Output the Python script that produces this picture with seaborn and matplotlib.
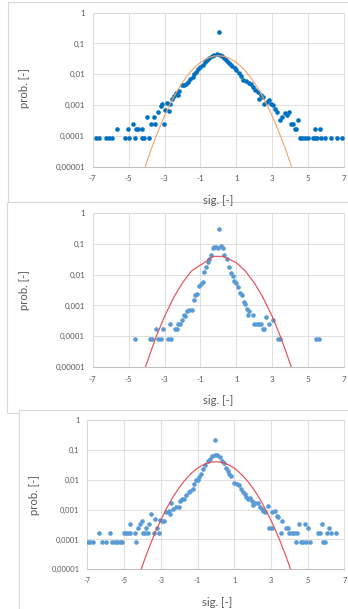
import matplotlib
matplotlib.use("Agg")
import matplotlib.pyplot as plt
from matplotlib.patches import Rectangle
import pandas as pd
import seaborn as sns

# probability of each 0.1-wide bin of sig.
p1_x = [-6.8, -6.65, -6.25, -6.1, -5.95, -5.65, -5.2, -5.05, -5.0, -4.75,
        -4.65, -4.6, -4.45, -4.25, -4.25, -4.15, -3.95, -3.85, -3.75, -3.6,
        -3.55, -3.37, -3.22, -3.15, -3.05, -2.96, -2.85, -2.74, -2.69, -2.57,
        -2.48, -2.35, -2.26, -2.17, -2.02, -1.89, -1.8, -1.67, -1.56, -1.44,
        -1.33, -1.22, -1.11, -1.0, -0.87, -0.74, -0.63, -0.5, -0.37, -0.22,
        -0.08, 0.05, 0.08, 0.2, 0.33, 0.45, 0.55, 0.66, 0.78, 0.9,
        1.0, 1.15, 1.28, 1.4, 1.55, 1.7, 1.81, 1.92, 2.06, 2.21,
        2.28, 2.38, 2.47, 2.56, 2.69, 2.8, 2.93, 3.06, 3.17, 3.29,
        3.42, 3.57, 3.72, 3.84, 3.95, 4.07, 4.16, 4.25, 4.33, 4.46,
        4.55, 4.65, 4.82, 5.0, 5.26, 5.37, 5.37, 5.5, 5.65, 5.73,
        5.95, 6.28, 6.6, 6.9]
p1_p = [8.3e-5, 8.3e-5, 8.3e-5, 8.3e-5, 8.3e-5, 1.67e-4, 8.3e-5, 1.67e-4, 8.3e-5, 2.5e-4,
        8.3e-5, 1.67e-4, 1.67e-4, 1.67e-4, 8.3e-5, 8.3e-5, 4.2e-4, 8.3e-5, 2.5e-4, 4.2e-4,
        2.5e-4, 5.8e-4, 9.3e-4, 1.05e-3, 2.5e-4, 6.8e-4, 1.17e-3, 6.2e-4, 1.1e-3, 1.55e-3,
        2.0e-3, 2.4e-3, 2.2e-3, 2.8e-3, 4.4e-3, 4.5e-3, 4.9e-3, 5.6e-3, 6.9e-3, 8.3e-3,
        0.0102, 0.012, 0.0145, 0.017, 0.0205, 0.025, 0.029, 0.033, 0.038, 0.042,
        0.044, 0.24, 0.042, 0.039, 0.034, 0.029, 0.025, 0.022, 0.0186, 0.016,
        0.0135, 0.0108, 0.009, 0.0066, 0.0061, 0.0054, 0.0047, 0.0039, 0.003, 0.0026,
        0.0016, 0.0022, 0.0019, 0.00105, 0.0013, 0.00145, 0.00112, 0.00098, 0.00074, 0.00058,
        0.00032, 0.00042, 0.00054, 0.00047, 0.00061, 2.5e-4, 2.5e-4, 1.67e-4, 1.67e-4, 3.3e-4,
        8.3e-5, 8.3e-5, 8.3e-5, 8.3e-5, 8.3e-5, 8.3e-5, 1.67e-4, 8.3e-5, 1.67e-4, 8.3e-5,
        8.3e-5, 8.3e-5, 8.3e-5, 8.3e-5]

p2_x = [-4.67, -3.83, -3.7, -3.46, -3.37, -3.22, -3.07, -2.81, -2.69, -2.63,
        -2.44, -2.33, -2.26, -2.15, -2.02, -1.94, -1.85, -1.74, -1.61, -1.48,
        -1.37, -1.3, -1.19, -1.06, -0.96, -0.87, -0.78, -0.69, -0.59, -0.5,
        -0.41, -0.31, -0.22, -0.13, 0.0, 0.04, 0.15, 0.24, 0.33, 0.48,
        0.61, 0.7, 0.8, 0.89, 0.98, 1.11, 1.22, 1.3, 1.41, 1.48,
        1.59, 1.63, 1.72, 1.91, 2.0, 2.15, 2.28, 2.37, 2.46, 2.56,
        2.65, 2.83, 3.02, 3.33, 3.44, 5.43, 5.61]
p2_p = [8.3e-5, 8.3e-5, 8.3e-5, 1.67e-4, 8.3e-5, 8.3e-5, 1.67e-4, 8.3e-5, 2.5e-4, 8.3e-5,
        1.67e-4, 1.67e-4, 2.5e-4, 2.5e-4, 3.3e-4, 4.9e-4, 4.4e-4, 6.6e-4, 7.1e-4, 7.1e-4,
        1.5e-3, 2.2e-3, 2.3e-3, 4.3e-3, 4.8e-3, 5.9e-3, 0.0123, 0.0178, 0.026, 0.033,
        0.043, 0.071, 0.079, 0.079, 0.074, 0.295, 0.085, 0.071, 0.043, 0.033,
        0.0178, 0.011, 0.0091, 0.0062, 0.0052, 0.0041, 0.0025, 0.0021, 0.00126, 0.0011,
        0.00078, 0.0005, 0.00066, 0.0005, 2.5e-4, 2.5e-4, 2.5e-4, 2.5e-4, 1.67e-4, 1.67e-4,
        4.2e-4, 2.5e-4, 3.3e-4, 8.3e-5, 8.3e-5, 8.3e-5, 8.3e-5]

p3_x = [-6.96, -6.84, -6.69, -6.37, -6.19, -6.0, -5.75, -5.64, -5.52, -5.39,
        -5.25, -5.1, -5.03, -4.92, -4.79, -4.7, -4.67, -4.43, -4.34, -4.25,
        -4.16, -4.05, -3.98, -3.85, -3.8, -3.71, -3.65, -3.53, -3.38, -3.3,
        -3.22, -3.11, -3.05, -2.93, -2.8, -2.71, -2.57, -2.5, -2.44, -2.32,
        -2.17, -2.03, -1.95, -1.85, -1.72, -1.63, -1.48, -1.41, -1.27, -1.18,
        -1.09, -1.0, -0.91, -0.82, -0.69, -0.58, -0.45, -0.33, -0.2, -0.07,
        -0.02, 0.07, 0.22, 0.35, 0.45, 0.53, 0.64, 0.71, 0.85, 1.0,
        1.13, 1.25, 1.36, 1.49, 1.58, 1.67, 1.76, 1.85, 1.95, 2.04,
        2.16, 2.31, 2.4, 2.49, 2.58, 2.67, 2.82, 2.89, 3.04, 3.07,
        3.22, 3.31, 3.4, 3.55, 3.58, 3.8, 3.95, 4.0, 4.13, 4.27,
        4.35, 4.4, 4.53, 4.64, 4.76, 4.85, 4.89, 5.0, 5.13, 5.55,
        5.67, 5.76, 5.85, 5.95, 6.04, 6.16, 6.27, 6.53]
p3_p = [8.3e-5, 8.3e-5, 8.3e-5, 1.67e-4, 8.3e-5, 8.3e-5, 1.67e-4, 8.3e-5, 8.3e-5, 8.3e-5,
        8.3e-5, 8.3e-5, 1.67e-4, 1.67e-4, 1.67e-4, 1.67e-4, 3.3e-4, 1.67e-4, 8.3e-5, 2.5e-4,
        3.3e-4, 4.2e-4, 1.67e-4, 1.67e-4, 2.5e-4, 1.67e-4, 3.3e-4, 7.2e-4, 1.67e-4, 5.0e-4,
        2.5e-4, 1.67e-4, 4.4e-4, 4.2e-4, 4.2e-4, 8.3e-4, 8.7e-4, 7.2e-4, 1.6e-3, 1.07e-3,
        1.23e-3, 1.23e-3, 2.0e-3, 2.2e-3, 2.3e-3, 3.0e-3, 3.9e-3, 4.1e-3, 4.8e-3, 7.4e-3,
        9.5e-3, 9.5e-3, 0.0123, 0.0158, 0.023, 0.03, 0.041, 0.05, 0.062, 0.067,
        0.22, 0.066, 0.058, 0.042, 0.035, 0.025, 0.02, 0.016, 0.013, 0.0079,
        0.0074, 0.0068, 0.005, 0.0039, 0.0032, 0.0026, 0.0022, 0.0025, 0.0019, 0.0014,
        0.0017, 0.0016, 0.00123, 0.00102, 0.00087, 0.00083, 0.0013, 2.5e-4, 0.00083, 2.5e-4,
        0.00087, 0.00062, 0.00056, 1.67e-4, 4.2e-4, 2.5e-4, 2.5e-4, 1.67e-4, 1.67e-4, 1.67e-4,
        8.3e-5, 1.67e-4, 3.3e-4, 8.3e-5, 8.3e-5, 3.3e-4, 8.3e-5, 2.5e-4, 8.3e-5, 1.67e-4,
        1.67e-4, 3.3e-4, 8.3e-5, 8.3e-5, 1.67e-4, 2.5e-4, 1.67e-4, 1.67e-4]

# normal reference curve (smooth version in charts 1 and 3, coarse one in chart 2)
curve_x = [-4.1, -4.0, -3.75, -3.5, -3.25, -3.0, -2.75, -2.5, -2.25, -2.0,
           -1.75, -1.5, -1.25, -1.0, -0.75, -0.5, -0.25, 0.0, 0.25, 0.5,
           0.75, 1.0, 1.25, 1.5, 1.75, 2.0, 2.25, 2.5, 2.75, 3.0,
           3.25, 3.5, 3.75, 4.0, 4.1]
curve_p = [8.9e-6, 1.34e-5, 3.56e-5, 8.7e-5, 2.04e-4, 4.4e-4, 9.1e-4, 1.76e-3, 3.19e-3, 5.4e-3,
           8.6e-3, 0.013, 0.0183, 0.0243, 0.0302, 0.0353, 0.0388, 0.04, 0.0388, 0.0353,
           0.0302, 0.0243, 0.0183, 0.013, 8.6e-3, 5.4e-3, 3.19e-3, 1.76e-3, 9.1e-4, 4.4e-4,
           2.04e-4, 8.7e-5, 3.56e-5, 1.34e-5, 8.9e-6]
coarse_x = [-4.1, -3.5, -3.0, -2.5, -2.0, -1.5, -0.25, 0.25, 1.0, 1.5,
            2.0, 2.5, 3.0, 3.5, 4.1]
coarse_p = [8.9e-6, 8.7e-5, 4.4e-4, 1.76e-3, 5.4e-3, 0.013, 0.0388, 0.0388, 0.0243, 0.013,
            5.4e-3, 1.76e-3, 4.4e-4, 8.7e-5, 8.9e-6]

x_ticks = [-7, -5, -3, -1, 1, 3, 5, 7]
x_tick_labels = ['-7', '-5', '-3', '-1', '1', '3', '5', '7']
y_ticks = [1, 0.1, 0.01, 0.001, 0.0001, 0.00001]
y_tick_labels = ['1', '0,1', '0,01', '0,001', '0,0001', '0,00001']

W, H = 348, 609
GRID = '#D9D9D9'
TXT = '#595959'

sns.set_style("white")
plt.rcParams['font.family'] = ['Lato', 'DejaVu Sans']

fig = plt.figure(figsize=(W / 100, H / 100), dpi=100)

# the three pasted chart frames (pixel boxes: left, top, right, bottom)
frames = [(7.5, 2, 400, 202), (7, 202, 400, 412.7), (19.3, 410, 400, 650)]
for i, (l, t, r, b) in enumerate(frames):
    fig.add_artist(Rectangle((l / W, 1 - b / H), (r - l) / W, (b - t) / H,
                             transform=fig.transFigure, facecolor='white',
                             edgecolor=GRID, lw=0.8, zorder=-3 + i))

panels = [
    dict(box=(92.7, 12.7, 344, 166.7), x=p1_x, p=p1_p, cx=curve_x, cp=curve_p,
         dot='#0070C0', line='#F2A46A', ylab=(-0.25, 0.51), xlab=(0.5, -0.184),
         fs=5.8, ypad=5.5, xpad=6.0),
    dict(box=(92.7, 212.7, 344, 367.3), x=p2_x, p=p2_p, cx=coarse_x, cp=coarse_p,
         dot='#5B9BD5', line='#E5484D', ylab=(-0.25, 0.5), xlab=(0.5, -0.18),
         fs=5.8, ypad=5.5, xpad=6.0),
    dict(box=(87.4, 420, 344.3, 569.3), x=p3_x, p=p3_p, cx=curve_x, cp=curve_p,
         dot='#5B9BD5', line='#E5484D', ylab=(-0.185, 0.5), xlab=(0.504, -0.186),
         fs=5.4, ypad=5.8, xpad=5.3),
]

for pan in panels:
    l, t, r, b = pan['box']
    ax = fig.add_axes([l / W, 1 - b / H, (r - l) / W, (b - t) / H])
    ax.set_facecolor('none')

    pts = pd.DataFrame({'sig': pan['x'], 'prob': pan['p']})
    ref = pd.DataFrame({'sig': pan['cx'], 'prob': pan['cp']})
    sns.scatterplot(data=pts, x='sig', y='prob', ax=ax, color=pan['dot'],
                    s=11, linewidth=0, zorder=3)
    sns.lineplot(data=ref, x='sig', y='prob', ax=ax, color=pan['line'],
                 lw=0.8, sort=False, estimator=None, zorder=4)

    ax.set_yscale('log')
    ax.set_ylim(1e-5, 1)
    ax.set_xlim(-7, 7)
    ax.set_xticks(x_ticks)
    ax.set_xticklabels(x_tick_labels)
    ax.set_yticks(y_ticks)
    ax.set_yticklabels(y_tick_labels)
    ax.minorticks_off()
    ax.grid(True, color=GRID, lw=0.6)
    ax.set_axisbelow(True)
    for side in ['left', 'top', 'right']:
        ax.spines[side].set_color(GRID)
        ax.spines[side].set_linewidth(0.6)
    ax.spines['bottom'].set_color('#BFBFBF')
    ax.spines['bottom'].set_linewidth(0.8)
    ax.tick_params(axis='both', length=0, labelsize=pan['fs'], colors=TXT)
    ax.tick_params(axis='y', pad=pan['ypad'])
    ax.tick_params(axis='x', pad=pan['xpad'])

    ax.set_xlabel('sig. [-]', fontsize=8.2, color=TXT)
    ax.set_ylabel('prob. [-]', fontsize=8.2, color=TXT)
    ax.xaxis.set_label_coords(*pan['xlab'])
    ax.yaxis.set_label_coords(*pan['ylab'])

fig.savefig('out.png', dpi=100)
